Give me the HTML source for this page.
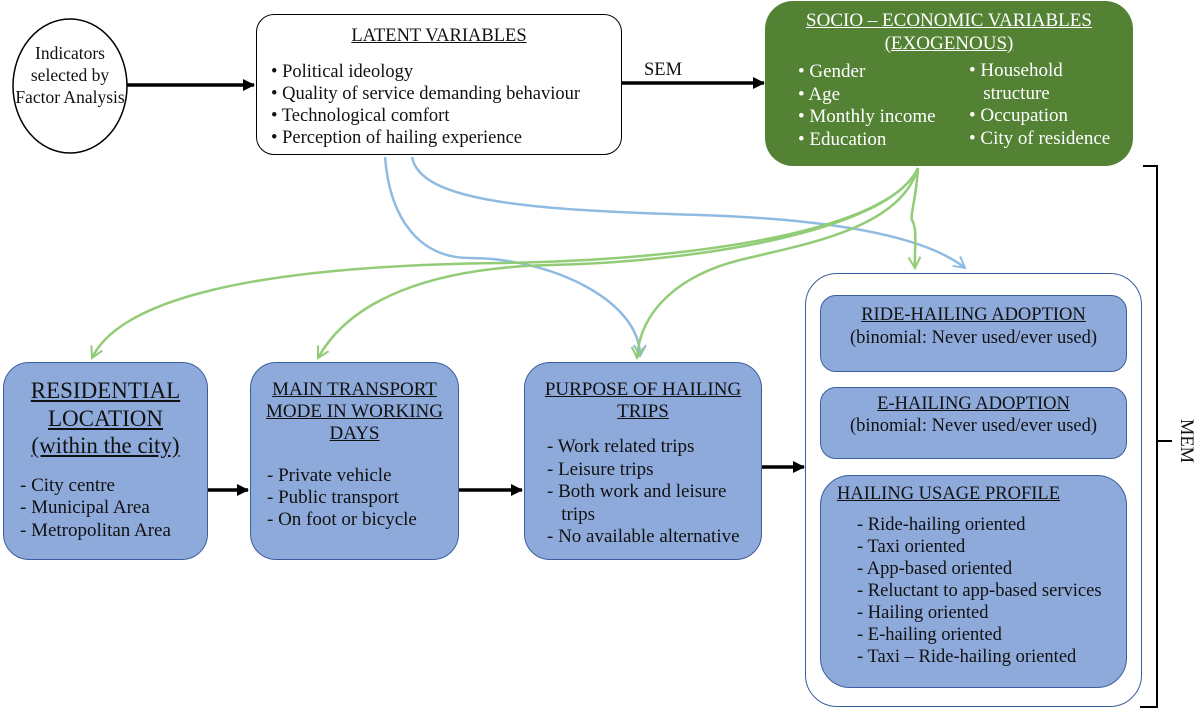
<!DOCTYPE html>
<html><head><meta charset="utf-8"><style>
body{margin:0;width:1200px;height:711px;position:relative;background:#fff;font-family:"Liberation Serif","Times New Roman",serif;color:#111;overflow:hidden}
.a{position:absolute;box-sizing:border-box}
.t{text-decoration:underline;text-align:center}
.blue{background:#8eaadb;border:1.5px solid #3a5f9e}
ul{margin:0;padding:0;list-style:none}
.fs{font-size:18.5px;line-height:22px}
.fb{font-size:19px;line-height:22.5px}
</style></head><body>
<svg class="a" style="left:0;top:0" width="1200" height="711">
<defs>
<marker id="bk" markerWidth="12" markerHeight="12" refX="11" refY="6" orient="auto" markerUnits="userSpaceOnUse"><path d="M0,0 L12,6 L0,12z" fill="#000"/></marker>
<marker id="gr" markerWidth="14" markerHeight="14" refX="12" refY="7" orient="auto" markerUnits="userSpaceOnUse"><path d="M1,1 L12,7 L1,13" fill="none" stroke="#92cc76" stroke-width="2"/></marker>
<marker id="bl" markerWidth="14" markerHeight="14" refX="12" refY="7" orient="auto" markerUnits="userSpaceOnUse"><path d="M1,1 L12,7 L1,13" fill="none" stroke="#8fbbe3" stroke-width="2"/></marker>
</defs>
<ellipse cx="70" cy="86" rx="57" ry="67" fill="#fff" stroke="#000" stroke-width="1.5"/>
<line x1="127" y1="85" x2="254" y2="85" stroke="#000" stroke-width="3.5" marker-end="url(#bk)"/>
<line x1="622" y1="83" x2="764" y2="83" stroke="#000" stroke-width="3.5" marker-end="url(#bk)"/>
<line x1="208" y1="490" x2="248" y2="490" stroke="#000" stroke-width="3.5" marker-end="url(#bk)"/>
<line x1="459" y1="490" x2="522" y2="490" stroke="#000" stroke-width="3.5" marker-end="url(#bk)"/>
<line x1="762" y1="467" x2="804" y2="467" stroke="#000" stroke-width="3.5" marker-end="url(#bk)"/>
<path d="M1143,166 H1157 V707 H1140 M1157,441 H1172" fill="none" stroke="#000" stroke-width="2"/>
<g fill="none" stroke-width="2.5">
<path d="M412,157 C420,200 520,210 700,215 C850,220 930,240 965,268" stroke="#8fbbe3" marker-end="url(#bl)"/>
<path d="M385,157 C390,220 420,258 470,258 C550,258 640,300 640,356" stroke="#8fbbe3" marker-end="url(#bl)"/>
<path d="M918,168 C890,230 700,260 500,263 C250,266 120,300 92,358" stroke="#92cc76" marker-end="url(#gr)"/>
<path d="M918,168 C890,230 700,262 550,265 C430,268 350,300 318,358" stroke="#92cc76" marker-end="url(#gr)"/>
<path d="M918,168 C900,230 800,245 740,260 C680,275 640,310 637,358" stroke="#92cc76" marker-end="url(#gr)"/>
<path d="M918,168 C916,200 910,215 912,220 C918,230 914,250 915,268" stroke="#92cc76" marker-end="url(#gr)"/>
</g>
</svg>
<div class="a" style="left:14px;top:42px;width:112px;text-align:center;font-size:17.5px;line-height:22px">Indicators selected by Factor Analysis</div>
<div class="a fs" style="left:256px;top:14px;width:366px;height:141px;border:1.5px solid #000;border-radius:18px;background:#fff;padding:10px 0 0 14px">
<div class="t" style="margin-left:-14px">LATENT VARIABLES</div>
<ul style="margin-top:14px"><li>• Political ideology</li><li>• Quality of service demanding behaviour</li><li>• Technological comfort</li><li>• Perception of hailing experience</li></ul></div>
<div class="a fs" style="left:644px;top:59px">SEM</div>
<div class="a fb" style="left:765px;top:1px;width:368px;height:165px;background:#548235;border-radius:28px;color:#fff;padding:8px 0 0 0">
<div class="t" style="line-height:23px">SOCIO – ECONOMIC VARIABLES<br>(EXOGENOUS)</div>
<ul class="a" style="left:33px;top:60px"><li>• Gender</li><li>• Age</li><li>• Monthly income</li><li>• Education</li></ul>
<ul class="a" style="left:204px;top:59px"><li>• Household</li><li>&nbsp;&nbsp; structure</li><li>• Occupation</li><li>• City of residence</li></ul></div>
<div class="a blue" style="left:3px;top:362px;width:205px;height:198px;border-radius:26px;padding:14px 0 0 16px">
<div class="t" style="font-size:23px;line-height:27.5px;margin-left:-16px">RESIDENTIAL<br>LOCATION<br>(within the city)</div>
<ul class="fb" style="margin-top:15px"><li>- City centre</li><li>- Municipal Area</li><li>- Metropolitan Area</li></ul></div>
<div class="a blue" style="left:250px;top:362px;width:209px;height:198px;border-radius:26px;padding:16px 0 0 16px">
<div class="t fb" style="margin-left:-16px;line-height:22px">MAIN TRANSPORT<br>MODE IN WORKING<br>DAYS</div>
<ul class="fb" style="margin-top:20px;line-height:22px"><li>- Private vehicle</li><li>- Public transport</li><li>- On foot or bicycle</li></ul></div>
<div class="a blue" style="left:524px;top:362px;width:238px;height:198px;border-radius:26px;padding:16px 0 0 22px">
<div class="t fb" style="margin-left:-22px;line-height:22px">PURPOSE OF HAILING<br>TRIPS</div>
<ul class="fb" style="margin-top:13px"><li>- Work related trips</li><li>- Leisure trips</li><li>- Both work and leisure</li><li>&nbsp;&nbsp;&nbsp;trips</li><li>- No available alternative</li></ul></div>
<div class="a" style="left:805px;top:273px;width:337px;height:434px;border:1.5px solid #3a5f9e;border-radius:32px;background:#fff"></div>
<div class="a blue fs" style="left:820px;top:295px;width:307px;height:77px;border-radius:16px;text-align:center;padding-top:8px;line-height:23px"><div class="t">RIDE-HAILING ADOPTION</div>(binomial: Never used/ever used)</div>
<div class="a blue fs" style="left:820px;top:387px;width:307px;height:72px;border-radius:16px;text-align:center;padding-top:5px"><div class="t">E-HAILING ADOPTION</div>(binomial: Never used/ever used)</div>
<div class="a blue fs" style="left:820px;top:475px;width:307px;height:213px;border-radius:30px;padding:7px 0 0 16px">
<div style="text-decoration:underline">HAILING USAGE PROFILE</div>
<ul style="margin-top:9px;margin-left:20px"><li>- Ride-hailing oriented</li><li>- Taxi oriented</li><li>- App-based oriented</li><li>- Reluctant to app-based services</li><li>- Hailing oriented</li><li>- E-hailing oriented</li><li>- Taxi – Ride-hailing oriented</li></ul></div>
<div class="a fs" style="left:1164px;top:430px;transform:rotate(90deg);transform-origin:center">MEM</div>
</body></html>
